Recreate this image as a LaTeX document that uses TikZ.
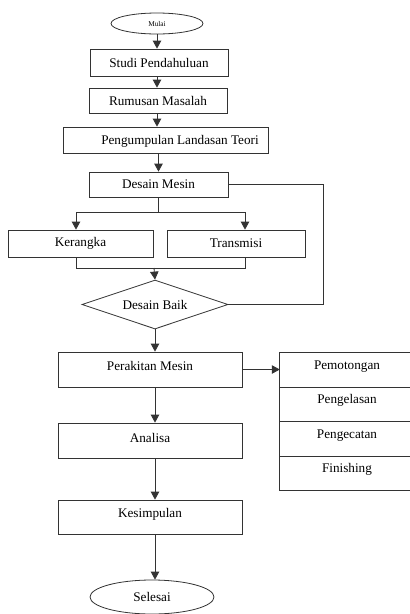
\documentclass[tikz,border=0pt]{standalone}
\usepackage{fontspec}
\setmainfont{Liberation Serif}
\usetikzlibrary{shapes.geometric,arrows.meta}
\begin{document}
\begin{tikzpicture}[x=1pt,y=-1pt,
  every node/.style={font=\fontsize{13.2}{15}\selectfont, inner sep=0pt},
  proc/.style={draw=black!80, line width=0.8pt, rectangle},
  term/.style={draw=black!80, line width=0.8pt, ellipse},
  dec/.style={draw=black!80, line width=0.8pt, diamond, aspect=2.98},
  conn/.style={draw=black!80, line width=0.8pt},
  arr/.style={conn, -{Triangle[width=8.5pt,length=8pt]}},
  cell/.style={rectangle, minimum width=130pt, minimum height=34.5pt}
]
\useasboundingbox (0,0) rectangle (410,614);

% terminals and process boxes
\node[term, minimum width=92pt, minimum height=21pt, font=\fontsize{7.3}{8}\selectfont] (mulai) at (157,23.5) {Mulai};
\node[proc, minimum width=138pt, minimum height=27pt] (studi) at (159,62.5) {Studi Pendahuluan};
\node[proc, minimum width=138pt, minimum height=25pt] (rumus) at (158,100.5) {Rumusan Masalah};
\node[proc, minimum width=205pt, minimum height=26pt] (peng) at (165.5,140) {};
\node (pengt) at (180,141) {Pengumpulan Landasan Teori};
\node[proc, minimum width=139pt, minimum height=25pt] (desain) at (158.5,184.5) {Desain Mesin};
\node[proc, minimum width=145pt, minimum height=27pt] (kerangka) at (80.5,243.5) {Kerangka};
\node[proc, minimum width=138pt, minimum height=27pt] (trans) at (236,243.5) {Transmisi};
\node[dec, minimum width=146pt, minimum height=49pt] (baik) at (155,304.5) {Desain Baik};
\node[proc, minimum width=184pt, minimum height=35pt] (rakit) at (150,369.5) {};
\node (rakitt) at (150,366) {Perakitan Mesin};
\node[proc, minimum width=184pt, minimum height=35pt] (analisa) at (150,440.5) {};
\node (analisat) at (150,437.5) {Analisa};
\node[proc, minimum width=184pt, minimum height=34pt] (simpul) at (150,517) {};
\node (simpult) at (150,514) {Kesimpulan};
\node[term, minimum width=124pt, minimum height=34pt] (selesai) at (152,597) {Selesai};

% right-hand block (cut by the picture edge)
\node[cell] (c1) at (345,370) {};
\node[cell] (c2) at (345,404) {};
\node[cell] (c3) at (345,438.5) {};
\node[cell] (c4) at (345,473) {};
\node (t1) at (347,366.5) {Pemotongan};
\node (t2) at (347,400.5) {Pengelasan};
\node (t3) at (347,435.5) {Pengecatan};
\node (t4) at (347,469.5) {Finishing};
\draw[conn] (c1.north east) -- (c1.north west) -- (c4.south west) -- (c4.south east);
\draw[conn] (c1.south west) -- (c1.south east);
\draw[conn] (c2.south west) -- (c2.south east);
\draw[conn] (c3.south west) -- (c3.south east);

% helper coordinates
\coordinate (split) at (158.5,212);
\coordinate (kin) at (76,212);
\coordinate (tin) at (245,212);
\coordinate (kout) at (76,268);
\coordinate (tout) at (245,268);
\coordinate (merge) at (154,268);
\coordinate (loopA) at (323,184.5);
\coordinate (loopB) at (323,304.5);

% connectors
\draw[arr] (mulai.south) -- (mulai.south |- studi.north);
\draw[arr] (studi.south -| mulai.south) -- (mulai.south |- rumus.north);
\draw[arr] (rumus.south -| mulai.south) -- (mulai.south |- peng.north);
\draw[arr] (peng.south -| desain.north) -- (desain.north);
\draw[conn] (desain.south) -- (split);
\draw[conn] (kin) -- (tin);
\draw[arr] (kin) -- (kin |- kerangka.north);
\draw[arr] (tin) -- (tin |- trans.north);
\draw[conn] (kout |- kerangka.south) -- (kout) -- (tout) -- (tout |- trans.south);
\draw[arr] (merge) -- (baik.north);
\draw[conn] (desain.east) -- (loopA) -- (loopB) -- (baik.east);
\draw[arr] (baik.south) -- (baik.south |- rakit.north);
\draw[arr] (rakit.east) -- (rakit.east -| c1.west);
\draw[arr] (rakit.south -| baik.south) -- (baik.south |- analisa.north);
\draw[arr] (analisa.south -| baik.south) -- (baik.south |- simpul.north);
\draw[arr] (simpul.south -| baik.south) -- (baik.south |- selesai.north);
\end{tikzpicture}
\end{document}
